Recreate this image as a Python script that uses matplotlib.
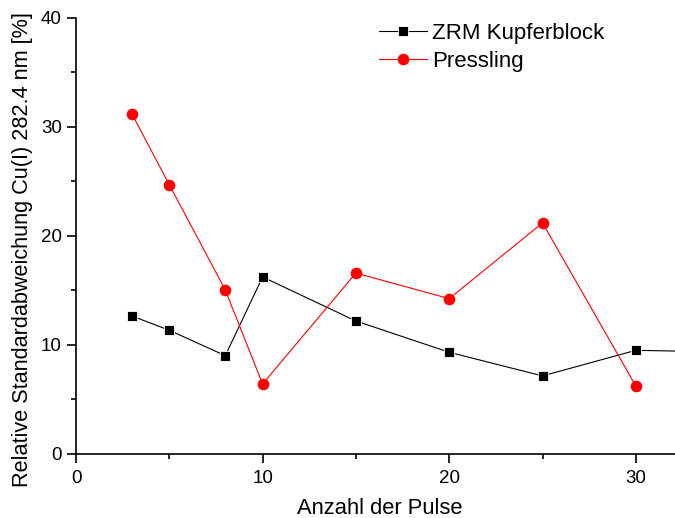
import matplotlib
matplotlib.use("Agg")
import matplotlib.pyplot as plt
from matplotlib.ticker import MultipleLocator

plt.rcParams['font.family'] = ['Liberation Sans', 'DejaVu Sans']

pulses_zrm = [3, 5, 8, 10, 15, 20, 25, 30, 35]
rsd_zrm = [12.66, 11.35, 9.02, 16.24, 12.2, 9.33, 7.16, 9.51, 9.35]
pulses_press = [3, 5, 8, 10, 15, 20, 25, 30]
rsd_press = [31.19, 24.7, 15.05, 6.42, 16.6, 14.25, 21.2, 6.24]

labels = ["ZRM Kupferblock", "Pressling"]
xlabel = "Anzahl der Pulse"
ylabel = "Relative Standardabweichung Cu(I) 282.4 nm [%]"

fig = plt.figure(figsize=(6.75, 5.18), dpi=100)
ax = fig.add_axes([0.1126, 0.1236, 0.8874, 0.8417])

ax.plot(pulses_zrm, rsd_zrm, color='black', lw=0.8, marker='s', ms=7.2,
        mfc='black', mec='white', mew=0.6, label=labels[0])
ax.plot(pulses_press, rsd_press, color='red', lw=0.8, marker='o', ms=8.4,
        mfc='red', mec='red', mew=0, label=labels[1])

ax.set_xlim(0, 32.1)
ax.set_ylim(0, 40)
ax.xaxis.set_major_locator(MultipleLocator(10))
ax.xaxis.set_minor_locator(MultipleLocator(5))
ax.yaxis.set_major_locator(MultipleLocator(10))
ax.yaxis.set_minor_locator(MultipleLocator(5))

for s in ['top', 'right']:
    ax.spines[s].set_visible(False)
for s in ['left', 'bottom']:
    ax.spines[s].set_linewidth(1.2)

ax.tick_params(which='major', direction='out', length=6.2, width=1.2, labelsize=13.5)
ax.tick_params(which='minor', direction='out', length=3.8, width=1.2)
ax.tick_params(axis='x', which='major', pad=5)
ax.tick_params(axis='y', which='major', pad=4)

ax.set_xlabel(xlabel, fontsize=15.8, labelpad=8)
ax.set_ylabel(ylabel, fontsize=15.6, labelpad=6)
ax.xaxis.label.set_x(0.507)
ax.yaxis.label.set_y(0.468)

leg = ax.legend(loc='upper left', bbox_to_anchor=(379/675, 1 - 23/518),
                bbox_transform=fig.transFigure, frameon=False, fontsize=16,
                handlelength=2.15, handletextpad=0.23, labelspacing=0.32,
                borderaxespad=0, borderpad=0)

fig.savefig("out.png", dpi=100)
